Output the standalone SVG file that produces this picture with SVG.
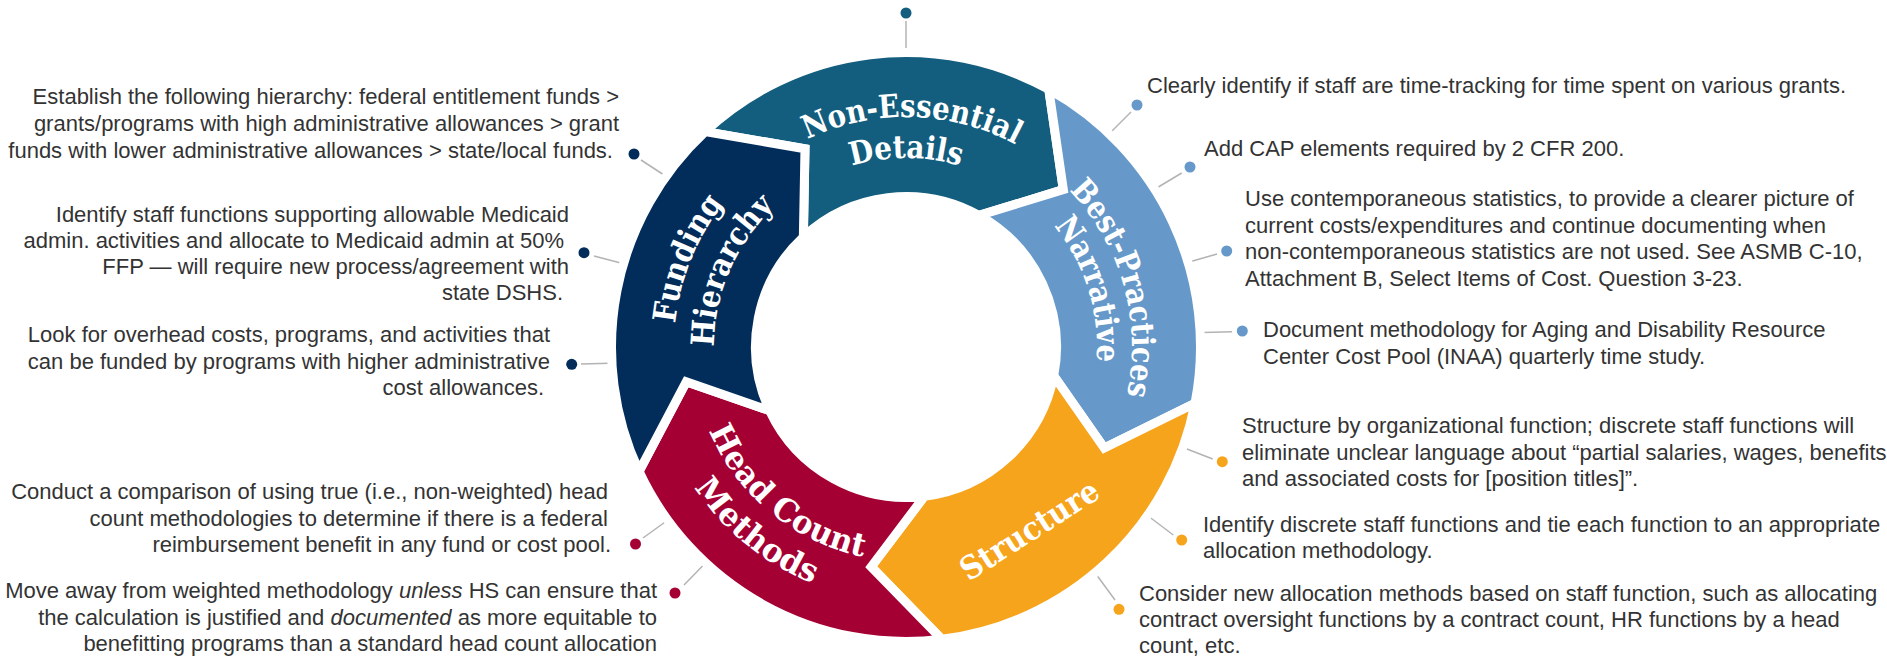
<svg xmlns="http://www.w3.org/2000/svg" width="1887" height="658" viewBox="0 0 1887 658">
<style>
.seg{stroke:#fff;stroke-width:9;stroke-linejoin:miter;stroke-miterlimit:10}
.lbl{font-family:"DejaVu Serif","Liberation Serif",serif;font-weight:bold;font-size:32px;fill:#fff;text-anchor:middle}
.t{font-family:"Liberation Sans",Arial,sans-serif;font-size:22px;fill:#333}
.e{text-anchor:end}
.lead{stroke:#b3b3b3;stroke-width:1.5;fill:none}
.c-teal{fill:#135e7e}.c-blue{fill:#6699c9}.c-orange{fill:#f7a41d}.c-red{fill:#a50034}.c-navy{fill:#022d5b}
</style>
<defs>
<path id="a230" d="M 679.49 307.06 A 230 230 0 0 1 1132.51 307.06"/>
<path id="a189" d="M 719.87 314.18 A 189 189 0 0 1 1092.13 314.18"/>
<path id="a226" d="M 683.43 307.76 A 226 226 0 0 1 1128.57 307.76"/>
<path id="a191" d="M 717.90 313.83 A 191 191 0 0 1 1094.10 313.83"/>
<path id="a232" d="M 677.52 306.71 A 232 232 0 0 1 1134.48 306.71"/>
<path id="a192" d="M 716.92 313.66 A 192 192 0 0 1 1095.08 313.66"/>
<path id="b214" d="M 695.25 384.16 A 214 214 0 0 0 1116.75 384.16"/>
<path id="b254" d="M 655.86 391.11 A 254 254 0 0 0 1156.14 391.11"/>
<path id="sline" d="M 951.2 593.1 L 1119.6 485.3"/>
</defs>
<rect width="1887" height="658" fill="#fff"/>
<g id="connectors">
<line class="lead" x1="906" y1="21" x2="906" y2="50"/>
<line class="lead" x1="641" y1="160" x2="664" y2="175"/>
<line class="lead" x1="594" y1="256" x2="621.7" y2="263.3"/>
<line class="lead" x1="581" y1="364" x2="610" y2="363.3"/>
<line class="lead" x1="643" y1="538" x2="666.5" y2="521"/>
<line class="lead" x1="684" y1="585" x2="703.5" y2="565"/>
<line class="lead" x1="1131" y1="112" x2="1111" y2="132"/>
<line class="lead" x1="1181.7" y1="173" x2="1156.7" y2="188"/>
<line class="lead" x1="1217" y1="254" x2="1190" y2="261.7"/>
<line class="lead" x1="1232" y1="331.7" x2="1203" y2="332.5"/>
<line class="lead" x1="1212.7" y1="459" x2="1185" y2="448.3"/>
<line class="lead" x1="1173.3" y1="535" x2="1149.5" y2="517"/>
<line class="lead" x1="1115" y1="600" x2="1096.7" y2="575"/>
</g>
<g id="non-essential-details">
<path class="seg c-teal" d="M 705.15 131.62 A 294.5 294.5 0 0 1 1048.78 89.42 L 1063.33 189.67 L 978.96 215.37 A 150.5 150.5 0 0 0 803.36 236.93 L 804.99 148.75 Z"/>
<text class="lbl" transform="rotate(1.5 906 347)"><textPath href="#a230" startOffset="50%" textLength="216" lengthAdjust="spacingAndGlyphs">Non-Essential</textPath></text>
<text class="lbl"><textPath href="#a189" startOffset="50%" textLength="110" lengthAdjust="spacingAndGlyphs">Details</textPath></text>
<circle class="c-teal" cx="906" cy="13" r="5.5"/>
</g>
<g id="best-practices-narrative">
<path class="seg c-blue" d="M 1048.78 89.42 A 294.5 294.5 0 0 1 1195.09 403.19 L 1104.25 448.01 L 1053.74 375.72 A 150.5 150.5 0 0 0 978.96 215.37 L 1063.33 189.67 Z"/>
<text class="lbl" transform="rotate(74.3 906 347)"><textPath href="#a226" startOffset="50%" textLength="222" lengthAdjust="spacingAndGlyphs">Best-Practices</textPath></text>
<text class="lbl" transform="rotate(72.5 906 347)"><textPath href="#a191" startOffset="50%" textLength="146" lengthAdjust="spacingAndGlyphs">Narrative</textPath></text>
</g>
<g id="structure">
<path class="seg c-orange" d="M 1195.09 403.19 A 294.5 294.5 0 0 1 941.89 639.31 L 871.19 566.76 L 924.34 496.38 A 150.5 150.5 0 0 0 1053.74 375.72 L 1104.25 448.01 Z"/>
<text class="lbl"><textPath href="#sline" startOffset="50%" textLength="158" lengthAdjust="spacingAndGlyphs">Structure</textPath></text>
</g>
<g id="head-count-methods">
<path class="seg c-red" d="M 941.89 639.31 A 294.5 294.5 0 0 1 639.09 471.46 L 686.24 381.81 L 769.60 410.60 A 150.5 150.5 0 0 0 924.34 496.38 L 871.19 566.76 Z"/>
<text class="lbl" transform="rotate(39.3 906 347)"><textPath href="#b214" startOffset="50%" textLength="207" lengthAdjust="spacingAndGlyphs">Head Count</textPath></text>
<text class="lbl" transform="rotate(39 906 347)"><textPath href="#b254" startOffset="50%" textLength="155" lengthAdjust="spacingAndGlyphs">Methods</textPath></text>
</g>
<g id="funding-hierarchy">
<path class="seg c-navy" d="M 639.09 471.46 A 294.5 294.5 0 0 1 705.15 131.62 L 804.99 148.75 L 803.36 236.93 A 150.5 150.5 0 0 0 769.60 410.60 L 686.24 381.81 Z"/>
<text class="lbl" transform="rotate(-68 906 347)"><textPath href="#a232" startOffset="50%" textLength="131" lengthAdjust="spacingAndGlyphs">Funding</textPath></text>
<text class="lbl" transform="rotate(-66.5 906 347)"><textPath href="#a192" startOffset="50%" textLength="157" lengthAdjust="spacingAndGlyphs">Hierarchy</textPath></text>
</g>
<g id="note-funding-1">
<circle class="c-navy" cx="634" cy="154" r="5.5"/>
<text class="t e" x="619" y="104">Establish the following hierarchy: federal entitlement funds &gt;</text>
<text class="t e" x="619" y="131">grants/programs with high administrative allowances &gt; grant</text>
<text class="t e" x="613" y="158">funds with lower administrative allowances &gt; state/local funds.</text>
</g>
<g id="note-funding-2">
<circle class="c-navy" cx="584" cy="252.7" r="5.5"/>
<text class="t e" x="569" y="221.5">Identify staff functions supporting allowable Medicaid</text>
<text class="t e" x="564" y="247.5">admin. activities and allocate to Medicaid admin at 50%</text>
<text class="t e" x="569" y="273.5">FFP — will require new process/agreement with</text>
<text class="t e" x="563" y="299.5">state DSHS.</text>
</g>
<g id="note-funding-3">
<circle class="c-navy" cx="571.7" cy="364.3" r="5.5"/>
<text class="t e" x="550" y="342">Look for overhead costs, programs, and activities that</text>
<text class="t e" x="550" y="369">can be funded by programs with higher administrative</text>
<text class="t e" x="544" y="395">cost allowances.</text>
</g>
<g id="note-head-1">
<circle class="c-red" cx="635.5" cy="544" r="5.5"/>
<text class="t e" x="608" y="499">Conduct a comparison of using true (i.e., non-weighted) head</text>
<text class="t e" x="608" y="526">count methodologies to determine if there is a federal</text>
<text class="t e" x="611" y="552">reimbursement benefit in any fund or cost pool.</text>
</g>
<g id="note-head-2">
<circle class="c-red" cx="675" cy="593" r="5.5"/>
<text class="t e" x="657" y="598">Move away from weighted methodology <tspan font-style="italic">unless</tspan> HS can ensure that</text>
<text class="t e" x="657" y="624.5">the calculation is justified and <tspan font-style="italic">documented</tspan> as more equitable to</text>
<text class="t e" x="657" y="651">benefitting programs than a standard head count allocation</text>
</g>
<g id="note-best-1">
<circle class="c-blue" cx="1137" cy="105" r="5.5"/>
<text class="t" x="1147" y="93">Clearly identify if staff are time-tracking for time spent on various grants.</text>
</g>
<g id="note-best-2">
<circle class="c-blue" cx="1190" cy="167" r="5.5"/>
<text class="t" x="1204" y="156">Add CAP elements required by 2 CFR 200.</text>
</g>
<g id="note-best-3">
<circle class="c-blue" cx="1226.7" cy="251" r="5.5"/>
<text class="t" x="1245" y="206">Use contemporaneous statistics, to provide a clearer picture of</text>
<text class="t" x="1245" y="232.5">current costs/expenditures and continue documenting when</text>
<text class="t" x="1245" y="259">non-contemporaneous statistics are not used. See ASMB C-10,</text>
<text class="t" x="1245" y="285.5">Attachment B, Select Items of Cost. Question 3-23.</text>
</g>
<g id="note-best-4">
<circle class="c-blue" cx="1242.3" cy="331" r="5.5"/>
<text class="t" x="1263" y="337">Document methodology for Aging and Disability Resource</text>
<text class="t" x="1263" y="363.5">Center Cost Pool (INAA) quarterly time study.</text>
</g>
<g id="note-structure-1">
<circle class="c-orange" cx="1222.3" cy="461.7" r="5.5"/>
<text class="t" x="1242" y="433.3">Structure by organizational function; discrete staff functions will</text>
<text class="t" x="1242" y="460">eliminate unclear language about “partial salaries, wages, benefits</text>
<text class="t" x="1242" y="486.3">and associated costs for [position titles]”.</text>
</g>
<g id="note-structure-2">
<circle class="c-orange" cx="1181.7" cy="540" r="5.5"/>
<text class="t" x="1203" y="531.7">Identify discrete staff functions and tie each function to an appropriate</text>
<text class="t" x="1203" y="558.3">allocation methodology.</text>
</g>
<g id="note-structure-3">
<circle class="c-orange" cx="1119" cy="609.3" r="5.5"/>
<text class="t" x="1139" y="600.5">Consider new allocation methods based on staff function, such as allocating</text>
<text class="t" x="1139" y="627">contract oversight functions by a contract count, HR functions by a head</text>
<text class="t" x="1139" y="653.3">count, etc.</text>
</g>
</svg>
